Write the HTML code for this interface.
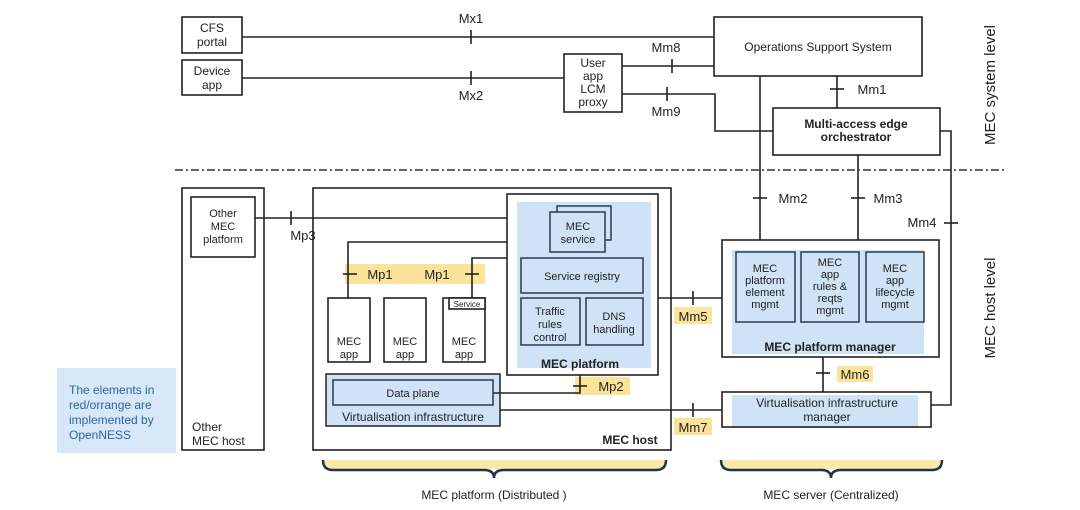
<!DOCTYPE html>
<html><head><meta charset="utf-8"><style>
html,body{margin:0;padding:0;background:#fff;}
svg{display:block;font-family:"Liberation Sans",sans-serif;}
</style></head><body>
<svg width="1080" height="510" viewBox="0 0 1080 510" xmlns="http://www.w3.org/2000/svg">
<rect width="1080" height="510" fill="#fff"/>
<g stroke="#222" stroke-width="1.6" fill="none">
<rect x="182" y="17" width="60" height="36"/>
<rect x="182" y="60" width="60" height="35"/>
<rect x="714" y="17" width="208" height="59"/>
<rect x="564" y="54" width="58" height="58"/>
<rect x="773" y="108" width="167" height="47"/>
<line x1="242" y1="37" x2="714" y2="37"/>
<line x1="471" y1="30" x2="471" y2="44"/>
<line x1="242" y1="78" x2="564" y2="78"/>
<line x1="471" y1="71" x2="471" y2="85"/>
<line x1="622" y1="66" x2="714" y2="66"/>
<line x1="672" y1="59" x2="672" y2="73"/>
<polyline points="622,94 715,94 715,131 773,131"/>
<line x1="667" y1="87" x2="667" y2="101"/>
<line x1="837" y1="76" x2="837" y2="108"/>
<line x1="830" y1="89" x2="844" y2="89"/>
<line x1="760" y1="76" x2="760" y2="240"/>
<line x1="753" y1="198" x2="767" y2="198"/>
<line x1="858" y1="155" x2="858" y2="240"/>
<line x1="851" y1="198" x2="865" y2="198"/>
<polyline points="940,131 951,131 951,405 931,405"/>
<line x1="944" y1="223" x2="958" y2="223"/>
</g>
<line x1="175" y1="170" x2="1005" y2="170" stroke="#333" stroke-width="1.6" stroke-dasharray="8,3,2,3"/>
<g font-size="12" fill="#222" text-anchor="middle">
<text x="212" y="32">CFS</text><text x="212" y="46">portal</text>
<text x="212" y="75">Device</text><text x="212" y="89">app</text>
<text x="593" y="67">User</text><text x="593" y="80">app</text><text x="593" y="93">LCM</text><text x="593" y="106">proxy</text>
<text x="818" y="51">Operations Support System</text>
<text x="856" y="128" font-weight="bold">Multi-access edge</text>
<text x="856" y="141" font-weight="bold">orchestrator</text>
<text x="471" y="23" font-size="13">Mx1</text>
<text x="471" y="100" font-size="13">Mx2</text>
<text x="666" y="52" font-size="13">Mm8</text>
<text x="666" y="116" font-size="13">Mm9</text>
<text x="872" y="94" font-size="13">Mm1</text>
<text x="793" y="203" font-size="13">Mm2</text>
<text x="888" y="203" font-size="13">Mm3</text>
<text x="922" y="227" font-size="13">Mm4</text>
<text x="303" y="240" font-size="13">Mp3</text>
</g>
<text transform="translate(995,85) rotate(-90)" font-size="15" fill="#222" text-anchor="middle">MEC system level</text>
<text transform="translate(995,308) rotate(-90)" font-size="15" fill="#222" text-anchor="middle">MEC host level</text>
<rect x="57" y="368" width="119" height="85" fill="#d9e8f8"/>
<g font-size="12" fill="#2a64a8"><text x="69" y="394">The elements in</text><text x="69" y="409">red/orrange are</text><text x="69" y="424">implemented by</text><text x="69" y="439">OpenNESS</text></g>
<g fill="#fbe39a">
<rect x="345" y="264" width="140" height="20"/>
<rect x="575" y="377" width="55" height="18"/>
<rect x="674" y="307" width="38" height="17"/>
<rect x="674" y="418" width="38" height="17"/>
<rect x="837" y="366" width="36" height="16"/>
</g>
<g fill="#cfe2f6">
<rect x="517" y="202" width="134" height="166"/>
<rect x="326" y="374" width="174" height="52"/>
<rect x="732" y="250" width="192" height="104"/>
<rect x="732" y="395" width="186" height="33"/>
</g>
<g stroke="#222" stroke-width="1.6" fill="none">
<rect x="182" y="188" width="82" height="262"/>
<rect x="191" y="197" width="64" height="60"/>
<line x1="255" y1="218" x2="507" y2="218"/>
<line x1="291" y1="211" x2="291" y2="225"/>
<rect x="313" y="188" width="358" height="262"/>
<rect x="507" y="194" width="151" height="181"/>
<rect x="328" y="298" width="42" height="64" fill="#fff"/>
<rect x="384" y="298" width="42" height="64" fill="#fff"/>
<rect x="443" y="298" width="42" height="64" fill="#fff"/>
<rect x="449" y="298" width="36" height="11" fill="#fff"/>
<polyline points="348,298 348,242 507,242"/>
<polyline points="472,298 472,258 507,258"/>
<line x1="343" y1="274" x2="357" y2="274"/>
<line x1="465" y1="274" x2="479" y2="274"/>
<polyline points="493,393 580,393 580,375"/>
<line x1="573" y1="386" x2="587" y2="386"/>
<line x1="500" y1="410" x2="722" y2="410"/>
<line x1="693" y1="403" x2="693" y2="417"/>
<line x1="658" y1="298" x2="722" y2="298"/>
<line x1="693" y1="291" x2="693" y2="305"/>
<rect x="722" y="240" width="217" height="117"/>
<rect x="722" y="392" width="209" height="35"/>
<line x1="823" y1="357" x2="823" y2="392"/>
<line x1="816" y1="373" x2="830" y2="373"/>
</g>
<g stroke="#2b3a4a" stroke-width="1.5" fill="#cfe2f6">
<rect x="557" y="206" width="54" height="34"/>
<rect x="550" y="212" width="55" height="40"/>
<rect x="521" y="258" width="122" height="35"/>
<rect x="521" y="298" width="59" height="47"/>
<rect x="586" y="298" width="57" height="47"/>
<rect x="326" y="374" width="174" height="52" fill="none" stroke="#222"/>
<rect x="333" y="380" width="160" height="25"/>
<rect x="736" y="252" width="59" height="70"/>
<rect x="801" y="252" width="58" height="70"/>
<rect x="866" y="252" width="58" height="70"/>
</g>
<g font-size="11" fill="#222" text-anchor="middle">
<text x="223" y="217">Other</text><text x="223" y="230">MEC</text><text x="223" y="243">platform</text>
<text x="578" y="230">MEC</text><text x="578" y="243">service</text>
<text x="582" y="280">Service registry</text>
<text x="550" y="315">Traffic</text><text x="550" y="328">rules</text><text x="550" y="341">control</text>
<text x="614" y="320">DNS</text><text x="614" y="333">handling</text>
<text x="349" y="345">MEC</text><text x="349" y="358">app</text>
<text x="405" y="345">MEC</text><text x="405" y="358">app</text>
<text x="464" y="345">MEC</text><text x="464" y="358">app</text>
<text x="467" y="307" font-size="8">Service</text>
<text x="413" y="397">Data plane</text>
<text x="413" y="421" font-size="12">Virtualisation  infrastructure</text>
<text x="765" y="272">MEC</text><text x="765" y="284">platform</text><text x="765" y="296">element</text><text x="765" y="308">mgmt</text>
<text x="830" y="266">MEC</text><text x="830" y="278">app</text><text x="830" y="290">rules &amp;</text><text x="830" y="302">reqts</text><text x="830" y="314">mgmt</text>
<text x="895" y="272">MEC</text><text x="895" y="284">app</text><text x="895" y="296">lifecycle</text><text x="895" y="308">mgmt</text>
<text x="827" y="407" font-size="12">Virtualisation  infrastructure</text>
<text x="827" y="421" font-size="12">manager</text>
<text x="580" y="368" font-size="12" font-weight="bold">MEC platform</text>
<text x="830" y="351" font-size="12" font-weight="bold">MEC platform manager</text>
<text x="630" y="444" font-size="12" font-weight="bold">MEC host</text>
</g>
<g font-size="12" fill="#222">
<text x="192" y="431">Other</text>
<text x="192" y="445">MEC host</text>
</g>
<g font-size="13" fill="#222" text-anchor="middle">
<text x="380" y="279">Mp1</text><text x="437" y="279">Mp1</text>
<text x="611" y="391">Mp2</text>
<text x="693" y="321">Mm5</text>
<text x="693" y="432">Mm7</text>
<text x="855" y="379">Mm6</text>
</g>
<g fill="#fbe9a8"><rect x="324" y="460" width="341" height="9"/><rect x="722" y="460" width="220" height="9"/></g>
<g stroke="#1f3550" stroke-width="2.5" fill="none">
<path d="M323,460 Q323,470 333,470 L484,470 Q494,470 494,478 Q494,470 504,470 L656,470 Q666,470 666,460"/>
<path d="M721,460 Q721,470 731,470 L821,470 Q831,470 831,478 Q831,470 841,470 L932,470 Q942,470 942,460"/>
</g>
<g font-size="12" fill="#222" text-anchor="middle">
<text x="494" y="499">MEC platform (Distributed )</text>
<text x="831" y="499">MEC server (Centralized)</text>
</g>
</svg>
</body></html>
